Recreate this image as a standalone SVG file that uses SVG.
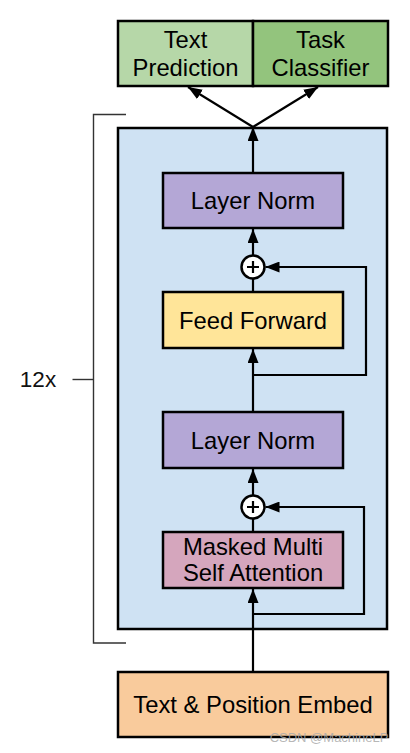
<svg xmlns="http://www.w3.org/2000/svg" width="410" height="753" viewBox="0 0 410 753">
<style>
.box{stroke:#000;stroke-width:2.5}
.t{font-family:"Liberation Sans",Arial,sans-serif;font-size:23.8px;fill:#000;text-anchor:middle}
.c{fill:none;stroke:#000;stroke-width:2.2}
.br{fill:none;stroke:#333;stroke-width:1.4}
</style>
<defs>
<marker id="ah" markerUnits="userSpaceOnUse" markerWidth="14" markerHeight="11" refX="14" refY="5.5" orient="auto">
<path d="M0,0 L14,5.5 L0,11 z" fill="#000"/>
</marker>
</defs>
<rect width="410" height="753" fill="#fff"/>
<g id="bracket">
<path class="br" d="M126,114.5 H93.5 V643 H126"/>
<line class="br" x1="72.5" y1="379.5" x2="93.5" y2="379.5"/>
<text x="38" y="387" style="font-family:'Liberation Sans',Arial,sans-serif;font-size:22.5px;fill:#111;text-anchor:middle">12x</text>
</g>
<g id="block">
<rect class="box" x="118" y="128" width="269" height="501" fill="#cfe2f3"/>
</g>
<g id="text-prediction">
<rect class="box" x="118" y="21" width="135" height="65" fill="#b6d7a8"/>
<text class="t" x="185.5" y="47.5">Text</text>
<text class="t" x="185.5" y="75.5">Prediction</text>
</g>
<g id="task-classifier">
<rect class="box" x="253" y="21" width="135" height="65" fill="#93c47d"/>
<text class="t" x="320.5" y="47.5">Task</text>
<text class="t" x="320.5" y="75.5">Classifier</text>
</g>
<g id="layer-norm-1">
<rect class="box" x="163" y="173" width="180" height="55" fill="#b4a7d6"/>
<text class="t" x="253" y="209">Layer Norm</text>
</g>
<g id="add-1">
<circle cx="253" cy="267" r="11.5" fill="#fff" stroke="#000" stroke-width="2.5"/>
<path d="M247,267 H259 M253,261 V273" stroke="#000" stroke-width="2.2"/>
</g>
<g id="feed-forward">
<rect class="box" x="163" y="292" width="180" height="56" fill="#ffe599"/>
<text class="t" x="253" y="328.5">Feed Forward</text>
</g>
<g id="layer-norm-2">
<rect class="box" x="163" y="412" width="180" height="56" fill="#b4a7d6"/>
<text class="t" x="253" y="449">Layer Norm</text>
</g>
<g id="add-2">
<circle cx="253" cy="507" r="11.5" fill="#fff" stroke="#000" stroke-width="2.5"/>
<path d="M247,507 H259 M253,501 V513" stroke="#000" stroke-width="2.2"/>
</g>
<g id="masked-attention">
<rect class="box" x="163" y="532" width="180" height="56" fill="#d5a6bd"/>
<text class="t" x="253" y="555">Masked Multi</text>
<text class="t" x="253" y="581">Self Attention</text>
</g>
<g id="embed">
<rect class="box" x="118" y="672" width="270" height="65" fill="#f9cb9c"/>
<text class="t" x="253" y="712.5">Text &amp; Position Embed</text>
</g>
<g id="connectors">
<line class="c" x1="253" y1="671" x2="253" y2="589" marker-end="url(#ah)"/>
<polyline class="c" points="253,614 364,614 364,507 265.5,507" marker-end="url(#ah)"/>
<line class="c" x1="253" y1="531" x2="253" y2="519"/>
<line class="c" x1="253" y1="495" x2="253" y2="469" marker-end="url(#ah)"/>
<line class="c" x1="253" y1="411" x2="253" y2="349" marker-end="url(#ah)"/>
<polyline class="c" points="253,375 366,375 366,267 265.5,267" marker-end="url(#ah)"/>
<line class="c" x1="253" y1="291" x2="253" y2="279"/>
<line class="c" x1="253" y1="255" x2="253" y2="229" marker-end="url(#ah)"/>
<line class="c" x1="253" y1="172" x2="253" y2="127" marker-end="url(#ah)"/>
<line class="c" x1="253" y1="127" x2="188" y2="87" marker-end="url(#ah)"/>
<line class="c" x1="253" y1="127" x2="318" y2="87" marker-end="url(#ah)"/>
</g>
<text x="329" y="742" style="font-family:'Liberation Sans',Arial,sans-serif;font-size:13px;fill:#aaa;fill-opacity:0.85;text-anchor:middle">CSDN @MachineLP</text>
</svg>
